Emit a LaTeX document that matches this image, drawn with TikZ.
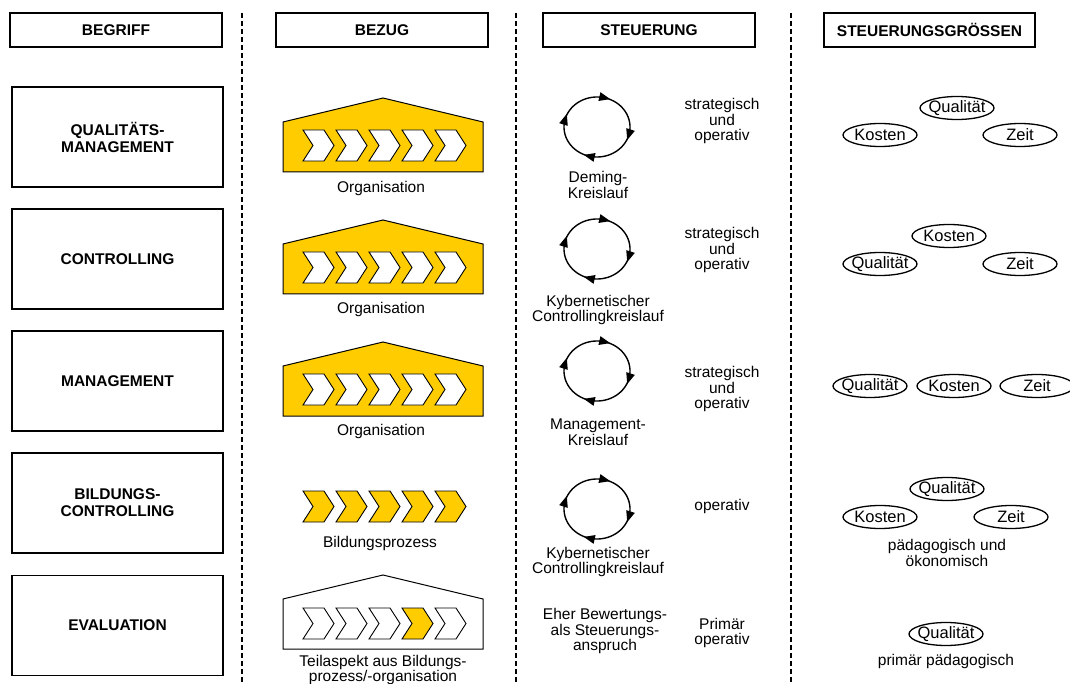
\documentclass[tikz,border=0pt]{standalone}
\usepackage{fontspec}
\setmainfont{Liberation Sans}
\usetikzlibrary{shapes.geometric,arrows.meta,decorations.markings}
\definecolor{gelb}{HTML}{FFCC00}
\begin{document}
\begin{tikzpicture}[x=1pt,y=-1pt,
  txt/.style={font=\fontsize{15.5}{15.5}\selectfont, align=center, inner sep=0pt},
  btxt/.style={align=center, inner sep=0pt, font=\fontsize{15.5}{17}\selectfont\bfseries},
  hbox/.style={draw, line width=1.4pt, minimum width=212pt, minimum height=34pt, btxt},
  rbox/.style={draw, line width=1.4pt, minimum width=211pt, minimum height=100pt, btxt},
  ell/.style={ellipse, draw, line width=1.3pt, minimum width=74pt, minimum height=23pt, inner xsep=-7pt, inner ysep=-2pt, align=center, font=\fontsize{16.5}{16.5}\selectfont},
  sepline/.style={line width=2pt, dash pattern=on 5pt off 3pt},
  house/.style={draw, line width=1pt},
  chevline/.style={draw, line width=0.9pt, line join=miter},
  cyc/.style={line width=1.4pt, postaction={decorate}, decoration={markings,
     mark=at position 0.125 with {\fill (5pt,0pt) -- (-6pt,4.5pt) -- (-6pt,-4.5pt) -- cycle;},
     mark=at position 0.375 with {\fill (5pt,0pt) -- (-6pt,4.5pt) -- (-6pt,-4.5pt) -- cycle;},
     mark=at position 0.625 with {\fill (5pt,0pt) -- (-6pt,4.5pt) -- (-6pt,-4.5pt) -- cycle;},
     mark=at position 0.875 with {\fill (5pt,0pt) -- (-6pt,4.5pt) -- (-6pt,-4.5pt) -- cycle;}}},
  chev/.pic={\path[chevline,pic actions] (0,0) -- (21,0) -- (31,15.5) -- (21,31) -- (0,31) -- (10,15.5) -- cycle;}
]
\useasboundingbox (0,0) rectangle (1070,684);
\clip (0,0) rectangle (1070,684);

% headers
\node[hbox] (h1) at (116,30) {BEGRIFF};
\node[hbox] (h2) at (382,30) {BEZUG};
\node[hbox] (h3) at (649,30) {STEUERUNG};
\node[hbox, minimum width=211pt] (h4) at (929.5,30) {STEUERUNGSGRÖSSEN};

% separators
\coordinate (s1a) at (242,13); \coordinate (s1b) at (242,684);
\coordinate (s2a) at (516,13); \coordinate (s2b) at (516,684);
\coordinate (s3a) at (791,13); \coordinate (s3b) at (791,684);
\draw[sepline] (s1a) -- (s1b);
\draw[sepline] (s2a) -- (s2b);
\draw[sepline] (s3a) -- (s3b);

% row boxes
\node[rbox] (b1) at (117.5,137) {QUALITÄTS-\\MANAGEMENT};
\node[rbox] (b2) at (117.5,259) {CONTROLLING};
\node[rbox] (b3) at (117.5,381) {MANAGEMENT};
\node[rbox] (b4) at (117.5,503) {BILDUNGS-\\CONTROLLING};
\node[rbox] (b5) at (117.5,625.5) {EVALUATION};

% houses rows 1-3
\foreach \dy in {0,122,244} {
  \draw[house, fill=gelb] (283,122+\dy) -- (383,98+\dy) -- (483,122+\dy) -- (483,172+\dy) -- (283,172+\dy) -- cycle;
  \foreach \i in {0,...,4} { \pic[fill=white] at (303+33*\i,130+\dy) {chev}; }
}
% row 4 process
\foreach \i in {0,...,4} { \pic[fill=gelb] at (303+33*\i,491) {chev}; }
% row 5 house
\draw[house, fill=white] (283,599) -- (383,575) -- (483,599) -- (483,649) -- (283,649) -- cycle;
\foreach \i/\f in {0/white,1/white,2/white,3/gelb,4/white} { \pic[fill=\f] at (303+33*\i,608) {chev}; }

\node[txt] (o1) at (381,188) {Organisation};
\node[txt] (o2) at (381,309) {Organisation};
\node[txt] (o3) at (381,431) {Organisation};
\node[txt] (o4) at (380,543) {Bildungsprozess};
\node[txt] (o5) at (383,670) {Teilaspekt aus Bildungs-\\prozess/-organisation};

% cycles
\foreach \n/\cy in {1/127,2/249,3/371,4/509} {
  \coordinate (c\n) at (597,\cy);
  \draw[cyc] (c\n) ++(-211:33 and 30) arc[start angle=-211, end angle=149, x radius=33, y radius=30];
}
\node[txt] (l1) at (598,185) {Deming-\\Kreislauf};
\node[txt] (l2) at (598,310) {Kybernetischer\\Controllingkreislauf};
\node[txt] (l3) at (598,432) {Management-\\Kreislauf};
\node[txt] (l4) at (598,562) {Kybernetischer\\Controllingkreislauf};
\node[txt] (l5) at (605,631) {Eher Bewertungs-\\als Steuerungs-\\anspruch};

\node[txt] (r1) at (722,121) {strategisch\\und\\operativ};
\node[txt] (r2) at (722,250) {strategisch\\und\\operativ};
\node[txt] (r3) at (722,389) {strategisch\\und\\operativ};
\node[txt] (r4) at (722,506) {operativ};
\node[txt] (r5) at (722,633) {Primär\\operativ};

% ellipses
\node[ell] (q1) at (957,108) {Qualität};
\node[ell] (k1) at (880,135) {Kosten};
\node[ell] (z1) at (1020,135) {Zeit};
\node[ell] (k2) at (949,236) {Kosten};
\node[ell] (q2) at (880,264) {Qualität};
\node[ell] (z2) at (1020,264) {Zeit};
\node[ell] (q3) at (870,386) {Qualität};
\node[ell] (k3) at (954,386) {Kosten};
\node[ell] (z3) at (1037,386) {Zeit};
\node[ell] (q4) at (947,489) {Qualität};
\node[ell] (k4) at (880,517) {Kosten};
\node[ell] (z4) at (1011,517) {Zeit};
\node[txt] (t4) at (947,553) {pädagogisch und\\ökonomisch};
\node[ell] (q5) at (946,634) {Qualität};
\node[txt] (t5) at (946,661) {primär pädagogisch};
\end{tikzpicture}
\end{document}
